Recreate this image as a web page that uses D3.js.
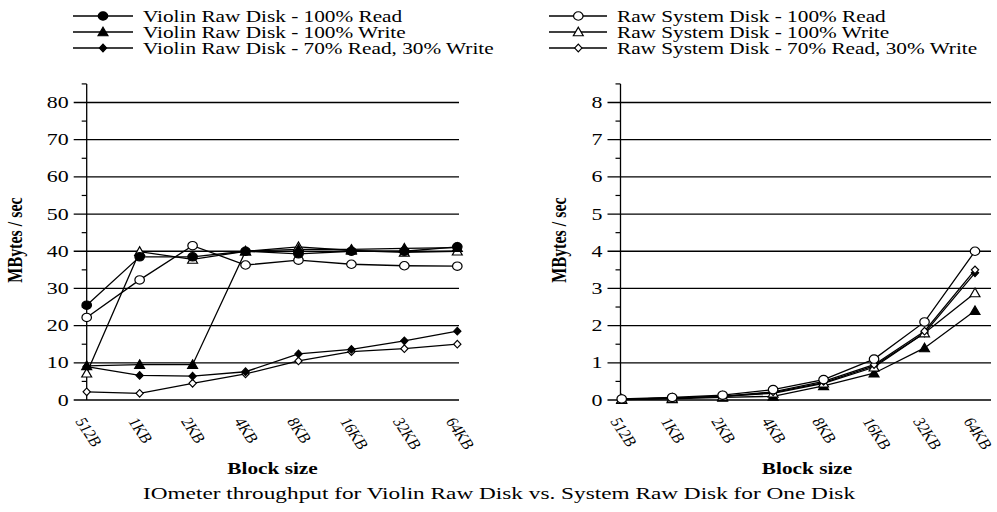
<!DOCTYPE html>
<html><head><meta charset="utf-8">
<script src="https://cdn.jsdelivr.net/npm/d3@7"></script>
<style>body{margin:0;background:#fff}svg{display:block}</style>
</head><body>
<script>
// ---------- data ----------
const blockSizes = ["512B","1KB","2KB","4KB","8KB","16KB","32KB","64KB"];
const leftTicks = [0,10,20,30,40,50,60,70,80];
const rightTicks = [0,1,2,3,4,5,6,7,8];

const violinRead  = [25.5, 38.5, 38.5, 40.0, 39.3, 40.0, 40.0, 41.2];
const violinWrite = [9.2, 9.5, 9.5, 40.0, 40.5, 40.5, 40.8, 41.0];
const violinMixed = [9.0, 6.6, 6.4, 7.6, 12.4, 13.6, 15.9, 18.5];
const systemRead  = [22.2, 32.3, 41.5, 36.3, 37.6, 36.5, 36.1, 36.0];
const systemWrite = [7.2, 39.9, 37.8, 40.0, 41.2, 40.2, 39.7, 40.0];
const systemMixed = [2.2, 1.8, 4.5, 7.0, 10.5, 13.0, 13.8, 15.0];

const rightFilledWrite = [0.01, 0.03, 0.07, 0.10, 0.38, 0.72, 1.40, 2.40];
const rightFilledMixed = [0.02, 0.05, 0.10, 0.20, 0.47, 0.92, 1.80, 3.42];
const rightWrite = [0.02, 0.05, 0.10, 0.18, 0.45, 0.88, 1.80, 2.88];
const rightMixed = [0.02, 0.05, 0.10, 0.22, 0.50, 0.95, 1.85, 3.50];
const rightRead  = [0.03, 0.07, 0.13, 0.28, 0.55, 1.10, 2.10, 4.00];

const legendLeft = ["Violin Raw Disk - 100% Read","Violin Raw Disk - 100% Write","Violin Raw Disk - 70% Read, 30% Write"];
const legendRight = ["Raw System Disk - 100% Read","Raw System Disk - 100% Write","Raw System Disk - 70% Read, 30% Write"];
const titleText = "IOmeter throughput for Violin Raw Disk vs. System Raw Disk for One Disk";

// ---------- setup ----------
const W = 997, H = 512, SX = 1.33;
const FONT = "'Liberation Serif','Times New Roman',serif";
const svg = d3.select("body").append("svg").attr("width", W).attr("height", H);

const shapes = {
  circle: "M4.2,0A4.2,4.2 0 1,1 -4.2,0A4.2,4.2 0 1,1 4.2,0Z",
  triangle: "M0,-4.8L4.4,3.8L-4.4,3.8Z",
  diamond: "M0,-3.8L3.2,0L0,3.8L-3.2,0Z"
};
function marker(g, x, y, shape, filled) {
  g.append("path").attr("d", shapes[shape])
    .attr("transform", `translate(${x},${y}) scale(${SX*0.85},1)`)
    .attr("fill", filled ? "#000" : "#fff")
    .attr("stroke", "#000").attr("stroke-width", 1.1);
}
function stext(g, x, y, str, o = {}) {
  return g.append("text").text(str)
    .attr("transform", `translate(${x},${y}) scale(${o.sx || SX},1)` + (o.rot ? ` rotate(${o.rot})` : ""))
    .attr("font-family", FONT).attr("font-size", o.size || 16)
    .attr("font-weight", o.bold ? "bold" : "normal")
    .attr("text-anchor", o.anchor || "start").attr("fill", "#000");
}

function chart(cfg) {
  const g = svg.append("g");
  const x = d3.scalePoint().domain(blockSizes).range([cfg.x0, cfg.x1]);
  const y = d3.scaleLinear().domain([0, cfg.ymax]).range([400, 400 - (400 - 102.5) * cfg.ymax / cfg.ticks[cfg.ticks.length - 1]]);
  // gridlines
  g.selectAll(".grid").data(cfg.ticks).enter().append("line")
    .attr("x1", cfg.axisX - 13).attr("x2", cfg.gridEnd)
    .attr("y1", d => y(d)).attr("y2", d => y(d))
    .attr("stroke", "#000").attr("stroke-width", 1.3);
  // minor ticks
  const minor = d3.range(cfg.minorStep, cfg.ymax + 1e-9, cfg.minorStep * 2);
  g.selectAll(".minor").data(minor).enter().append("line")
    .attr("x1", cfg.axisX - 5).attr("x2", cfg.axisX)
    .attr("y1", d => y(d)).attr("y2", d => y(d))
    .attr("stroke", "#000").attr("stroke-width", 1.2);
  // y axis line
  g.append("line").attr("x1", cfg.axisX).attr("x2", cfg.axisX)
    .attr("y1", y(cfg.ymax)).attr("y2", y(0)).attr("stroke", "#000").attr("stroke-width", 1.3);
  // y tick labels
  cfg.ticks.forEach(t => stext(g, cfg.axisX - 18, y(t) + 5.5, String(t), {anchor: "end", size: 16.5}));
  // x tick labels
  blockSizes.forEach(b => stext(g, x(b) - 12, 421, b, {rot: 62, size: 14, sx: 1.25}));
  // axis titles
  stext(g, cfg.ylabX, 240, "MBytes / sec", {rot: -90, anchor: "middle", bold: true, size: 16});
  stext(g, cfg.xlabX, 474, "Block size", {anchor: "middle", bold: true, size: 16});
  // series
  const line = d3.line().x((d, i) => x(blockSizes[i])).y(d => y(d));
  cfg.series.forEach(s => {
    g.append("path").attr("d", line(s.values)).attr("fill", "none")
      .attr("stroke", "#000").attr("stroke-width", 1.3);
  });
  cfg.series.forEach(s => {
    s.values.forEach((v, i) => marker(g, x(blockSizes[i]), y(v), s.shape, s.filled));
  });
}

chart({
  x0: 86.7, x1: 457.3, axisX: 86.7, gridEnd: 459, ymax: 85, ticks: leftTicks, minorStep: 5,
  ylabX: 22, xlabX: 272.5,
  series: [
    {values: systemMixed, shape: "diamond", filled: false},
    {values: violinMixed, shape: "diamond", filled: true},
    {values: systemRead, shape: "circle", filled: false},
    {values: systemWrite, shape: "triangle", filled: false},
    {values: violinWrite, shape: "triangle", filled: true},
    {values: violinRead, shape: "circle", filled: true}
  ]
});
chart({
  x0: 621.7, x1: 975, axisX: 620.5, gridEnd: 991, ymax: 8.5, ticks: rightTicks, minorStep: 0.5,
  ylabX: 566, xlabX: 807,
  series: [
    {values: rightFilledWrite, shape: "triangle", filled: true},
    {values: rightFilledMixed, shape: "diamond", filled: true},
    {values: rightWrite, shape: "triangle", filled: false},
    {values: rightMixed, shape: "diamond", filled: false},
    {values: rightRead, shape: "circle", filled: false}
  ]
});

// legends
const lg = svg.append("g");
const legShapes = ["circle", "triangle", "diamond"];
[16, 32, 48].forEach((yy, i) => {
  lg.append("line").attr("x1", 73).attr("x2", 133).attr("y1", yy).attr("y2", yy).attr("stroke", "#000").attr("stroke-width", 1.3);
  marker(lg, 103, yy, legShapes[i], true);
  stext(lg, 143, yy + 6, legendLeft[i], {size: 16});
  lg.append("line").attr("x1", 549).attr("x2", 607).attr("y1", yy).attr("y2", yy).attr("stroke", "#000").attr("stroke-width", 1.3);
  marker(lg, 578.3, yy, legShapes[i], false);
  stext(lg, 617, yy + 6, legendRight[i], {size: 16});
});

// title
stext(svg, 499, 499, titleText, {anchor: "middle", size: 17.5});
</script>
</body></html>
